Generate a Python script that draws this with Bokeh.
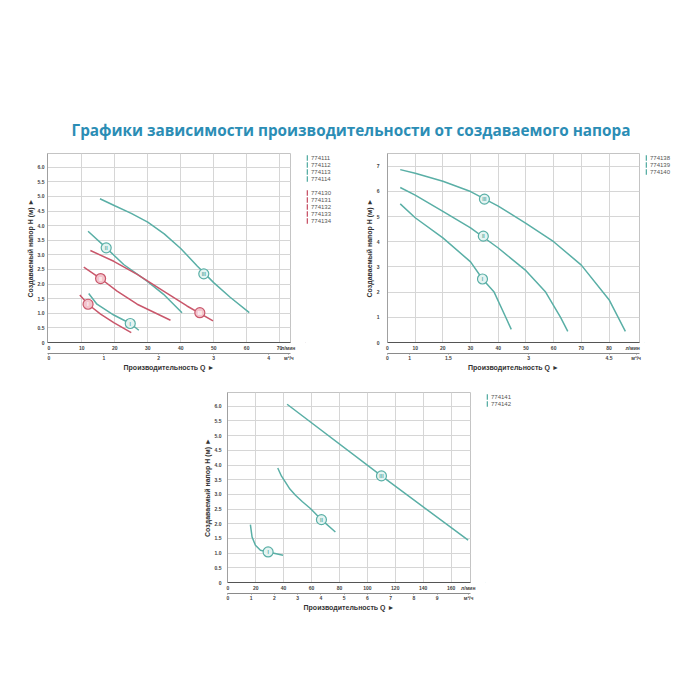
from bokeh.plotting import figure
from bokeh.models import Range1d, FixedTicker, LinearAxis, Legend, LegendItem, Div, Spacer
from bokeh.layouts import column, row
from bokeh.embed import file_html
from bokeh.resources import INLINE
from bokeh.core.properties import value

# ---------------- texts ----------------
TITLE = "Графики зависимости производительности от создаваемого напора"
Y_TITLE = "Создаваемый напор H (м) ►"
X_TITLE = "Производительность Q ►"
UNIT_LMIN = "л/мин"
UNIT_M3H = "м³/ч"
ROMAN = ["I", "II", "III"]

# ---------------- chart 1 data ----------------
c1_yticks = [0, 0.5, 1.0, 1.5, 2.0, 2.5, 3.0, 3.5, 4.0, 4.5, 5.0, 5.5, 6.0]
c1_ylabels = ["0", "0.5", "1.0", "1.5", "2.0", "2.5", "3.0", "3.5", "4.0", "4.5", "5.0", "5.5", "6.0"]
c1_q_lmin = [0, 10, 20, 30, 40, 50, 60, 70]
c1_q_lmin_labels = ["0", "10", "20", "30", "40", "50", "60", "70"]
c1_q_m3h = [0, 1, 2, 3, 4]
c1_q_m3h_labels = ["0", "1", "2", "3", "4"]
c1_legend_teal = ["774111", "774112", "774113", "774114"]
c1_legend_red = ["774130", "774131", "774132", "774133", "774134"]

c1_teal3_x = [15.5, 20.0, 25.0, 30.0, 35.0, 40.0, 45.0, 50.0, 55.0, 60.8]
c1_teal3_y = [4.92, 4.68, 4.42, 4.12, 3.72, 3.22, 2.62, 2.05, 1.55, 1.02]
c1_teal2_x = [11.9, 17.4, 22.7, 29.8, 34.8, 40.4]
c1_teal2_y = [3.81, 3.24, 2.67, 2.10, 1.65, 1.02]
c1_teal1_x = [12.1, 14.6, 19.7, 24.7, 27.3]
c1_teal1_y = [1.68, 1.31, 0.94, 0.65, 0.42]
c1_red3_x = [12.6, 19.7, 26.8, 34.8, 41.9, 49.8]
c1_red3_y = [3.15, 2.78, 2.33, 1.76, 1.25, 0.74]
c1_red2_x = [10.6, 15.7, 20.7, 26.8, 36.9]
c1_red2_y = [2.58, 2.19, 1.76, 1.31, 0.76]
c1_red1_x = [9.4, 11.9, 15.7, 19.7, 25.0]
c1_red1_y = [1.63, 1.31, 0.97, 0.68, 0.34]
c1_teal_mark_x = [24.7, 17.4, 47.0]
c1_teal_mark_y = [0.65, 3.24, 2.35]
c1_red_mark_x = [11.9, 15.7, 45.8]
c1_red_mark_y = [1.31, 2.19, 1.02]

# ---------------- chart 2 data ----------------
c2_yticks = [0, 1, 2, 3, 4, 5, 6, 7]
c2_ylabels = ["0", "1", "2", "3", "4", "5", "6", "7"]
c2_q_lmin = [0, 10, 20, 30, 40, 50, 60, 70, 80]
c2_q_lmin_labels = ["0", "10", "20", "30", "40", "50", "60", "70", "80"]
c2_q_m3h_at = [0, 8, 22, 51, 80]
c2_q_m3h_labels = ["0", "1", "1.5", "3", "4.5"]
c2_legend = ["774138", "774139", "774140"]

c2_c3_x = [4.6, 10, 20, 30, 40, 50, 60, 70, 80, 85.9]
c2_c3_y = [6.86, 6.72, 6.40, 5.99, 5.41, 4.73, 4.0, 3.07, 1.7, 0.44]
c2_c2_x = [4.6, 10, 20, 30, 40, 50, 57.1, 62.5, 65.1]
c2_c2_y = [6.15, 5.85, 5.2, 4.55, 3.75, 2.85, 2.0, 1.0, 0.44]
c2_c1_x = [4.6, 10, 20, 30, 34.3, 38.5, 42.7, 44.7]
c2_c1_y = [5.5, 4.95, 4.15, 3.2, 2.52, 2.0, 1.0, 0.52]
c2_mark_x = [34.3, 34.6, 35.0]
c2_mark_y = [2.52, 4.22, 5.69]

# ---------------- chart 3 data ----------------
c3_yticks = c1_yticks
c3_ylabels = c1_ylabels
c3_q_lmin = [0, 20, 40, 60, 80, 100, 120, 140, 160]
c3_q_lmin_labels = ["0", "20", "40", "60", "80", "100", "120", "140", "160"]
c3_q_m3h = [0, 1, 2, 3, 4, 5, 6, 7, 8, 9]
c3_q_m3h_labels = ["0", "1", "2", "3", "4", "5", "6", "7", "8", "9"]
c3_legend = ["774141", "774142"]

c3_c3_x = [42.5, 110.1, 172.2]
c3_c3_y = [6.07, 3.63, 1.44]
c3_c2_x = [35.8, 38.5, 41.3, 44.5, 48.5, 53.5, 59.2, 67.1, 77.1]
c3_c2_y = [3.9, 3.62, 3.42, 3.18, 2.97, 2.75, 2.52, 2.14, 1.72]
c3_c1_x = [16.2, 17.4, 19.8, 23.4, 28.9, 39.6]
c3_c1_y = [1.97, 1.55, 1.27, 1.10, 1.04, 0.93]
c3_mark_x = [28.9, 67.1, 110.1]
c3_mark_y = [1.04, 2.14, 3.63]

# ---------------- styles ----------------
FONT = "Liberation Sans"
TEAL = "#5aafa6"
TEAL_FILL = "#e4f4f2"
RED = "#c9576b"
RED_FILL = "#f3c4cc"
GRID = "#d6d6d6"
LMIN_PER_M3H = 1000.0 / 60.0


def build(width, height, bl, bt, br, bb, xr, yr, yticks, ylabels, vgrid,
          q1, q1_labels, unit1_at, q2, q2_labels, unit2_at, ystand):
    p = figure(width=width, height=height, output_backend="svg", toolbar_location=None,
               x_range=Range1d(*xr), y_range=Range1d(*yr),
               min_border_left=bl, min_border_top=bt, min_border_right=br, min_border_bottom=bb)
    p.outline_line_color = "#c4c4c4"
    p.background_fill_color = "white"
    p.border_fill_color = "white"

    yax = p.yaxis[0]
    yax.ticker = FixedTicker(ticks=yticks)
    yax.major_label_overrides = dict(zip(yticks, ylabels))
    yax.axis_line_color = "#a0a0a0"
    yax.major_tick_out = 0
    yax.major_tick_in = 0
    yax.minor_tick_out = 0
    yax.minor_tick_in = 0
    yax.major_label_standoff = ystand
    yax.major_label_text_font = FONT
    yax.major_label_text_font_style = "bold"
    yax.major_label_text_font_size = "5px"
    yax.major_label_text_color = "#444444"
    yax.axis_label = Y_TITLE
    yax.axis_label_text_font = FONT
    yax.axis_label_text_font_style = "bold"
    yax.axis_label_text_font_size = "7px"
    yax.axis_label_text_color = "#333333"
    yax.axis_label_standoff = 1

    xax = p.xaxis[0]
    t1 = list(q1) + [unit1_at]
    xax.ticker = FixedTicker(ticks=t1)
    xax.major_label_overrides = dict(zip(t1, list(q1_labels) + [UNIT_LMIN]))
    xax.axis_line_color = "#555555"
    xax.major_tick_out = 0
    xax.major_tick_in = 0
    xax.minor_tick_out = 0
    xax.minor_tick_in = 0
    xax.major_label_standoff = 2
    xax.major_label_text_font = FONT
    xax.major_label_text_font_style = "bold"
    xax.major_label_text_font_size = "5px"
    xax.major_label_text_color = "#444444"

    t2 = list(q2) + [unit2_at]
    ax2 = LinearAxis(ticker=FixedTicker(ticks=t2),
                     major_label_overrides=dict(zip(t2, list(q2_labels) + [UNIT_M3H])))
    ax2.axis_line_color = "#8a8a8a"
    ax2.major_tick_out = 1
    ax2.major_tick_in = 0
    ax2.minor_tick_out = 0
    ax2.minor_tick_in = 0
    ax2.major_tick_line_color = "#8a8a8a"
    ax2.major_label_standoff = 0
    ax2.major_label_text_font = FONT
    ax2.major_label_text_font_style = "bold"
    ax2.major_label_text_font_size = "5px"
    ax2.major_label_text_color = "#444444"
    ax2.axis_label = X_TITLE
    ax2.axis_label_text_font = FONT
    ax2.axis_label_text_font_style = "bold"
    ax2.axis_label_text_font_size = "7px"
    ax2.axis_label_text_color = "#333333"
    ax2.axis_label_standoff = 0
    p.add_layout(ax2, "below")

    p.xgrid.ticker = FixedTicker(ticks=vgrid)
    p.ygrid.ticker = FixedTicker(ticks=yticks)
    p.grid.grid_line_color = GRID
    p.grid.grid_line_width = 1
    return p


def curve(p, x, y, color):
    p.line(x, y, line_color=color, line_width=1.5)


def marks(p, x, y, fill, line, text_color):
    p.scatter(x, y, marker="circle", size=10, fill_color=fill, line_color=line, line_width=1.2)
    p.text(x, y, text=ROMAN, text_align="center", text_baseline="middle",
           text_font=value(FONT), text_font_style="bold", text_font_size=value("5px"),
           text_color=text_color)


def legend_panel(width, height, left, top, groups):
    lp = figure(width=width, height=height, output_backend="svg", toolbar_location=None,
                x_range=Range1d(0, 1), y_range=Range1d(0, 1),
                x_axis_location=None, y_axis_location=None,
                min_border_left=left, min_border_top=top, min_border_right=0, min_border_bottom=0)
    lp.outline_line_color = None
    lp.background_fill_color = "white"
    lp.border_fill_color = "white"
    for g in lp.grid:
        g.visible = False
    items = []
    for gi, (color, labels) in enumerate(groups):
        if gi > 0:
            gap = lp.vbar(x=[-5], top=[-5], width=1, fill_alpha=0, line_alpha=0)
            items.append(LegendItem(label=value(" "), renderers=[gap]))
        # off-range bar: only its legend swatch is visible
        r = lp.vbar(x=[-5], top=[-5], width=1, fill_color=color, line_color=None)
        for lab in labels:
            items.append(LegendItem(label=value(lab), renderers=[r]))
    lg = Legend(items=items, location="top_left", orientation="vertical",
                glyph_width=2, glyph_height=7, label_height=7, label_width=10,
                label_standoff=3, spacing=0, padding=0, margin=1,
                border_line_alpha=0, background_fill_alpha=0,
                label_text_font=FONT, label_text_font_size="6px", label_text_color="#555555")
    lp.add_layout(lg)
    return lp


# ---------------- chart 1 ----------------
p1 = build(289, 240, 38, 10, 8, 40, (-0.4, 73.3), (0, 6.47), c1_yticks, c1_ylabels,
           c1_q_lmin[1:], c1_q_lmin, c1_q_lmin_labels, 72.6,
           [q * LMIN_PER_M3H for q in c1_q_m3h], c1_q_m3h_labels, 72.8, 3)
curve(p1, c1_teal3_x, c1_teal3_y, TEAL)
curve(p1, c1_teal2_x, c1_teal2_y, TEAL)
curve(p1, c1_teal1_x, c1_teal1_y, TEAL)
curve(p1, c1_red3_x, c1_red3_y, RED)
curve(p1, c1_red2_x, c1_red2_y, RED)
curve(p1, c1_red1_x, c1_red1_y, RED)
marks(p1, c1_teal_mark_x, c1_teal_mark_y, TEAL_FILL, TEAL, TEAL)
marks(p1, c1_red_mark_x, c1_red_mark_y, RED_FILL, RED, "white")
leg1 = legend_panel(47, 240, 7, 5, [(TEAL, c1_legend_teal), (RED, c1_legend_red)])

# ---------------- chart 2 ----------------
p2 = build(298, 240, 42, 11, 4, 37, (0, 91), (0, 7.5), c2_yticks, c2_ylabels,
           c2_q_lmin[1:], c2_q_lmin, c2_q_lmin_labels, 88.5,
           c2_q_m3h_at, c2_q_m3h_labels, 89.8, 8)
curve(p2, c2_c3_x, c2_c3_y, TEAL)
curve(p2, c2_c2_x, c2_c2_y, TEAL)
curve(p2, c2_c1_x, c2_c1_y, TEAL)
marks(p2, c2_mark_x, c2_mark_y, TEAL_FILL, TEAL, TEAL)
leg2 = legend_panel(49, 240, 1, 5, [(TEAL, c2_legend)])

# ---------------- chart 3 ----------------
p3 = build(287, 240, 36, 10, 8, 40, (-0.2, 173.9), (0, 6.47), c3_yticks, c3_ylabels,
           c3_q_lmin[1:], c3_q_lmin, c3_q_lmin_labels, 172.3,
           [q * LMIN_PER_M3H for q in c3_q_m3h], c3_q_m3h_labels, 172.5, 6)
curve(p3, c3_c3_x, c3_c3_y, TEAL)
curve(p3, c3_c2_x, c3_c2_y, TEAL)
curve(p3, c3_c1_x, c3_c1_y, TEAL)
marks(p3, c3_mark_x, c3_mark_y, TEAL_FILL, TEAL, TEAL)
leg3 = legend_panel(60, 240, 7, 5, [(TEAL, c3_legend)])

title = Div(text=('<div style="padding-top:120px;text-align:center;font-family:\'Open Sans\';'
                  'font-weight:700;font-size:15.3px;line-height:21px;color:#2b8db5;'
                  'white-space:nowrap;width:684px;">' + TITLE + '</div>'),
            width=684, height=142, margin=(0, 0, 0, 0))

body = column(title, row(p1, leg1, p2, leg2), row(Spacer(width=182, height=10), p3, leg3))
layout = row(Spacer(width=9, height=10), body)
open("out.html", "w").write(file_html(layout, INLINE))
